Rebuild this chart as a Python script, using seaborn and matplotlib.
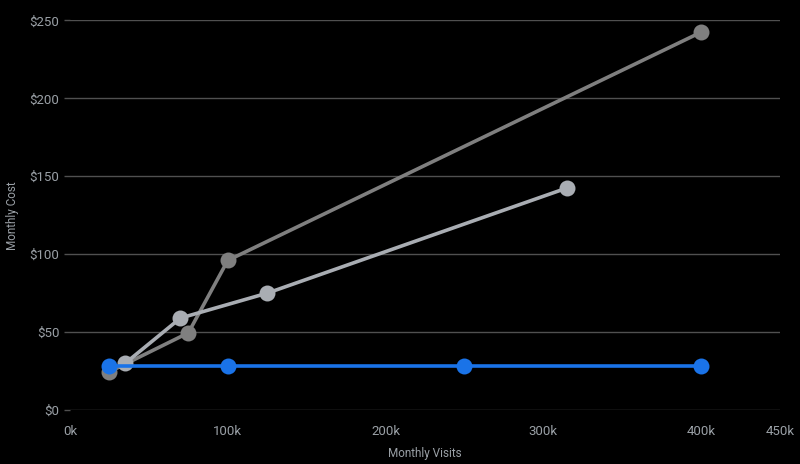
import seaborn as sns
import matplotlib.pyplot as plt
import pandas as pd

# series (visits, cost)
dark_visits = [25000, 75000, 100000, 400000]
dark_cost = [24.5, 49.5, 96, 242.5]

light_visits = [35000, 70000, 125000, 315000]
light_cost = [30, 59, 75, 142.5]

blue_visits = [25000, 100000, 250000, 400000]
blue_cost = [28, 28, 28, 28]

y_ticks = [0, 50, 100, 150, 200, 250]
y_labels = ["$0", "$50", "$100", "$150", "$200", "$250"]
x_ticks = [0, 100000, 200000, 300000, 400000, 450000]
x_labels = ["0k", "100k", "200k", "300k", "400k", "450k"]

sns.set_style("dark")
plt.rcParams['font.family'] = ['Roboto', 'DejaVu Sans']

txt = "#9aa0a6"
grid = "#505050"

fig = plt.figure(figsize=(8, 4.6401), dpi=100, facecolor="black")
ax = fig.add_axes([0.0875, 0.1164, 0.8875, 0.8394])
ax.set_facecolor("black")

series = [
    (dark_visits, dark_cost, "#7f7f7f"),
    (light_visits, light_cost, "#a9adb3"),
    (blue_visits, blue_cost, "#1a73e8"),
]
for xs, ys, col in series:
    df = pd.DataFrame({"visits": xs, "cost": ys})
    sns.lineplot(data=df, x="visits", y="cost", ax=ax, color=col,
                 linewidth=2.6, marker="o", markersize=11.5,
                 markeredgewidth=0, clip_on=False)

ax.set_xlim(0, 450000)
ax.set_ylim(0, 250)
ax.set_yticks(y_ticks)
ax.set_yticklabels(y_labels)
ax.set_xticks(x_ticks)
ax.set_xticklabels(x_labels)

ax.grid(False)
for v in y_ticks:
    ax.axhline(v, color=grid, linewidth=1, zorder=0)

for s in ax.spines.values():
    s.set_visible(False)

ax.tick_params(axis="y", colors=txt, labelsize=9.5, length=4.5, width=1,
               color=grid, pad=3, left=True)
ax.tick_params(axis="x", colors=txt, labelsize=9.5, length=0, pad=11)

ax.set_xlabel("Monthly Visits", color=txt, fontsize=8.5, labelpad=6)
ax.set_ylabel("Monthly Cost", color=txt, fontsize=8.5, labelpad=8)

fig.savefig("out.png", dpi=100, facecolor="black")
